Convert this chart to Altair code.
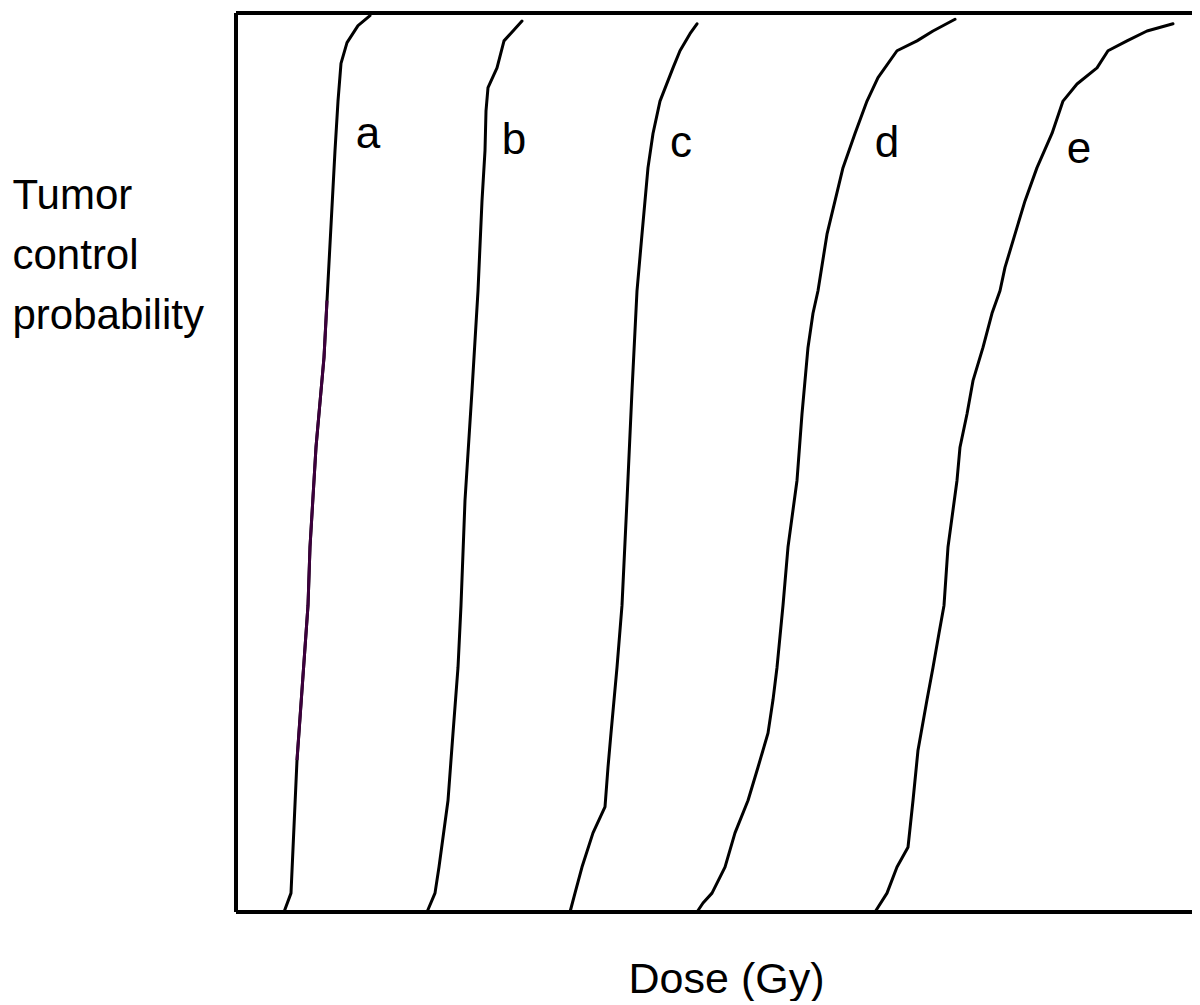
import altair as alt
import pandas as pd

# Curve values: dose (arbitrary units, 10 px per unit across the box), TCP (0-1)
a_dose = [4.8, 5.5, 6.1, 6.6, 7.2, 7.4, 8.0, 8.8, 9.1, 9.9, 10.2, 10.5, 11.1, 12.2, 13.4]
a_tcp = [0.0, 0.021, 0.169, 0.247, 0.341, 0.406, 0.517, 0.617, 0.680, 0.847, 0.902, 0.944, 0.967, 0.986, 0.997]

b_dose = [19.1, 19.9, 20.3, 21.2, 21.7, 22.2, 22.5, 22.9, 23.6, 24.2, 24.6, 24.9, 25.0, 25.2, 26.1, 26.8, 27.7, 28.6]
b_tcp = [0.0, 0.021, 0.050, 0.124, 0.199, 0.272, 0.341, 0.458, 0.580, 0.691, 0.791, 0.847, 0.891, 0.917, 0.939, 0.969, 0.980, 0.991]

c_dose = [33.4, 33.9, 34.6, 35.7, 36.9, 37.2, 37.5, 38.1, 38.6, 39.1, 39.6, 40.1, 40.6, 41.2, 41.7, 42.4, 43.7, 44.4, 45.4, 46.1]
c_tcp = [0.0, 0.021, 0.050, 0.088, 0.117, 0.161, 0.199, 0.272, 0.341, 0.458, 0.580, 0.691, 0.754, 0.828, 0.866, 0.902, 0.939, 0.958, 0.977, 0.988]

d_dose = [46.1, 46.7, 47.6, 48.9, 49.9, 51.2, 52.2, 53.2, 53.7, 54.1, 54.7, 55.2, 56.1, 56.6, 57.2, 57.7, 58.2,
          59.1, 60.7, 61.9, 63.1, 64.2, 66.1, 68.1, 69.7, 71.9]
d_tcp = [0.0, 0.010, 0.021, 0.050, 0.088, 0.124, 0.161, 0.199, 0.236, 0.272, 0.341, 0.406, 0.480, 0.554, 0.628, 0.666,
         0.691, 0.754, 0.828, 0.866, 0.902, 0.928, 0.958, 0.969, 0.980, 0.993]

e_dose = [63.9, 65.1, 66.1, 67.2, 67.7, 68.2, 69.1, 69.7, 70.3, 70.8, 71.2, 72.1, 72.4, 73.1, 73.7, 74.7, 75.6, 76.4,
          76.9, 77.9, 78.9, 80.1, 81.6, 82.7, 84.1, 86.1, 87.2, 89.1, 91.1, 93.7]
e_tcp = [0.0, 0.021, 0.050, 0.072, 0.124, 0.180, 0.236, 0.272, 0.310, 0.341, 0.406, 0.480, 0.517, 0.554, 0.591, 0.628,
         0.666, 0.691, 0.717, 0.754, 0.791, 0.828, 0.866, 0.902, 0.921, 0.939, 0.958, 0.969, 0.980, 0.988]

label_names = ["a", "b", "c", "d", "e"]
label_dose = [13.2, 27.8, 44.5, 65.1, 84.3]
label_tcp = [0.850, 0.843, 0.840, 0.840, 0.833]

y_title = ["Tumor", "control", "probability"]
x_title = "Dose (Gy)"

rows = []
for name, ds, ts in [("a", a_dose, a_tcp), ("b", b_dose, b_tcp), ("c", c_dose, c_tcp),
                     ("d", d_dose, d_tcp), ("e", e_dose, e_tcp)]:
    for i, (x, y) in enumerate(zip(ds, ts)):
        rows.append({"curve": name, "order": i, "dose": x, "tcp": y})
df = pd.DataFrame(rows)
labels_df = pd.DataFrame({"name": label_names, "dose": label_dose, "tcp": label_tcp})

FONT = "Liberation Sans"
xscale = alt.Scale(domain=[0, 95.6], nice=False, zero=False)
yscale = alt.Scale(domain=[0, 1], nice=False, zero=False)

x_axis = alt.Axis(title=x_title, labels=False, ticks=False, domain=False, grid=False,
                  titleFont=FONT, titleFontSize=43, titleFontWeight="normal", titleColor="black",
                  titleX=490, titleY=80, titleAlign="center", titleBaseline="alphabetic")
y_axis = alt.Axis(title=y_title, labels=False, ticks=False, domain=False, grid=False,
                  titleFont=FONT, titleFontSize=42, titleFontWeight="normal", titleColor="black",
                  titleAngle=0, titleX=-224, titleY=195, titleAlign="left", titleBaseline="alphabetic",
                  titleLineHeight=60)

lines = alt.Chart(df).mark_line(color="black", strokeWidth=3, strokeJoin="round", strokeCap="round").encode(
    x=alt.X("dose:Q", scale=xscale, axis=x_axis),
    y=alt.Y("tcp:Q", scale=yscale, axis=y_axis),
    detail="curve:N",
    order="order:Q",
)

purple = alt.Chart(df).transform_filter(
    "datum.curve == 'a' && datum.tcp >= 0.169 && datum.tcp <= 0.82"
).mark_line(color="#3c003c", strokeWidth=3, strokeJoin="round").encode(
    x=alt.X("dose:Q", scale=xscale),
    y=alt.Y("tcp:Q", scale=yscale),
    order="order:Q",
)

hborders = alt.Chart(pd.DataFrame({"tcp": [0.0, 1.0]})).mark_rule(color="black", strokeWidth=4).encode(
    y=alt.Y("tcp:Q", scale=yscale)
)
vborder = alt.Chart(pd.DataFrame({"dose": [0.0]})).mark_rule(color="black", strokeWidth=4).encode(
    x=alt.X("dose:Q", scale=xscale)
)

texts = alt.Chart(labels_df).mark_text(font=FONT, fontSize=44, color="black", align="center",
                                       baseline="alphabetic").encode(
    x=alt.X("dose:Q", scale=xscale),
    y=alt.Y("tcp:Q", scale=yscale),
    text="name:N",
)

chart = alt.layer(lines, purple, hborders, vborder, texts).properties(
    width=956, height=899,
    autosize=alt.AutoSizeParams(type="none"),
    padding={"left": 228, "top": 5, "right": 0, "bottom": 89},
    background="white",
).configure_view(stroke=None)

chart.save("out.html", embed_options={"renderer": "svg", "actions": False})
